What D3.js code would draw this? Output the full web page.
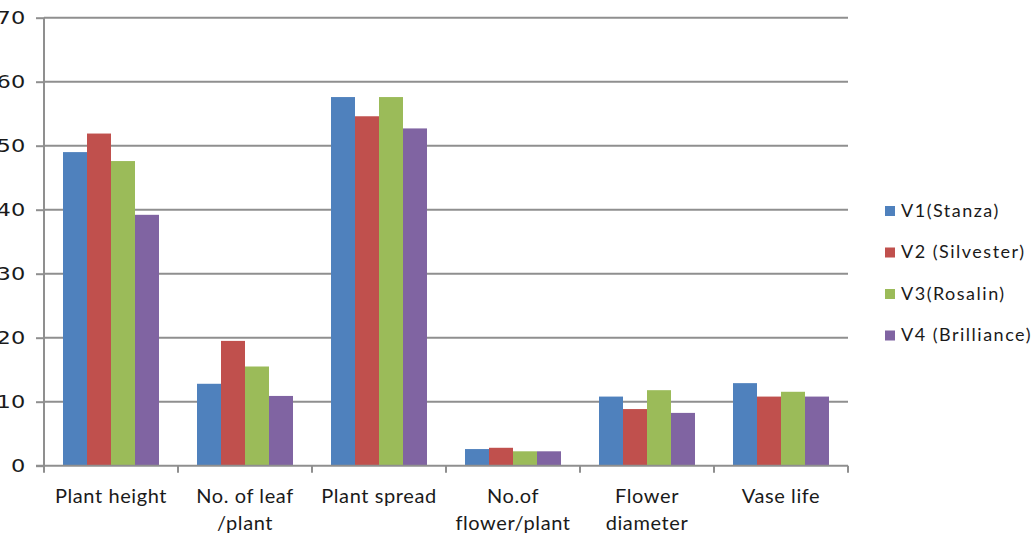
<!DOCTYPE html>
<html><head><meta charset="utf-8">
<script src="https://cdn.jsdelivr.net/npm/d3@7"></script>
<style>body{margin:0;background:#fff;}svg{display:block;}</style>
</head><body>
<svg id="c" width="1034" height="534"></svg>
<script>
const categories = [["Plant height"],["No. of leaf","/plant"],["Plant spread"],["No.of","flower/plant"],["Flower","diameter"],["Vase life"]];
const seriesNames = ["V1(Stanza)","V2 (Silvester)","V3(Rosalin)","V4 (Brilliance)"];
const v1 = [49.0, 12.8, 57.6, 2.6, 10.8, 12.9];
const v2 = [51.9, 19.5, 54.6, 2.8, 8.85, 10.8];
const v3 = [47.6, 15.5, 57.6, 2.25, 11.8, 11.55];
const v4 = [39.2, 10.9, 52.7, 2.25, 8.25, 10.8];
const yTicks = [0,10,20,30,40,50,60,70];
const colors = ["#4F81BD","#C0504D","#9BBB59","#8064A2"];

const series = [v1,v2,v3,v4];
const svg = d3.select("#c");
const L = 44, R = 848, T = 17.7, B = 465.7;
const font = "Lato, 'Open Sans', sans-serif";
const y = d3.scaleLinear().domain([0,70]).range([B,T]);
const x0 = d3.scaleBand().domain(d3.range(categories.length)).range([L,R]).paddingInner(0).paddingOuter(0);
const groupW = 96;
const x1 = d3.scaleBand().domain(d3.range(4)).range([0,groupW]);
const grid = "#8f8f8f";

// gridlines
svg.append("g").selectAll("line").data(yTicks.filter(d=>d>0)).join("line")
  .attr("x1",L).attr("x2",R).attr("y1",d=>y(d)).attr("y2",d=>y(d))
  .attr("stroke",grid).attr("stroke-width",2);

// bars
const g = svg.append("g");
categories.forEach((c,i)=>{
  const gx = x0(i) + (x0.bandwidth()-groupW)/2;
  series.forEach((s,j)=>{
    g.append("rect").attr("x",gx+x1(j)).attr("width",x1.bandwidth())
      .attr("y",y(s[i])).attr("height",y(0)-y(s[i]))
      .attr("fill",colors[j]);
  });
});

// y axis
const ya = svg.append("g").attr("transform",`translate(${L},0)`)
  .call(d3.axisLeft(y).tickValues(yTicks).tickSize(8).tickPadding(12).tickFormat(d3.format("d")));
ya.select(".domain").attr("stroke",grid).attr("stroke-width",2).attr("d",`M0,${T}V${B}`);
ya.selectAll(".tick line").attr("stroke",grid).attr("stroke-width",2);
ya.selectAll(".tick text").attr("x",0).attr("transform","translate(-18.8,0) scale(1.25,1)")
  .attr("font-family","'DejaVu Sans', sans-serif").attr("font-size",18).attr("fill","#1a1a1a");

// x axis
const xa = svg.append("g").attr("transform",`translate(0,${B})`);
xa.append("line").attr("x1",L-8).attr("x2",R).attr("stroke",grid).attr("stroke-width",2);
xa.selectAll("line.t").data(d3.range(categories.length+1)).join("line").attr("class","t")
  .attr("x1",d=>L+d*x0.bandwidth()).attr("x2",d=>L+d*x0.bandwidth()).attr("y1",0).attr("y2",7)
  .attr("stroke",grid).attr("stroke-width",2);
categories.forEach((c,i)=>{
  const cx = x0(i)+x0.bandwidth()/2;
  const t = svg.append("text").attr("x",cx).attr("y",503).attr("text-anchor","middle")
    .attr("font-family",font).attr("font-size",20).attr("letter-spacing",0.6).attr("fill","#1a1a1a");
  c.forEach((line,k)=>t.append("tspan").attr("x",cx).attr("dy",k===0?0:27).text(line));
});

// legend
const lg = svg.append("g");
seriesNames.forEach((n,j)=>{
  const cy = 211 + j*41.5;
  lg.append("rect").attr("x",885).attr("y",cy-5).attr("width",10).attr("height",10).attr("fill",colors[j]);
  lg.append("text").attr("x",901).attr("y",cy+5.5).attr("font-family",font).attr("font-size",18)
    .attr("letter-spacing",1.5).attr("fill","#1a1a1a").text(n);
});
</script>
</body></html>
